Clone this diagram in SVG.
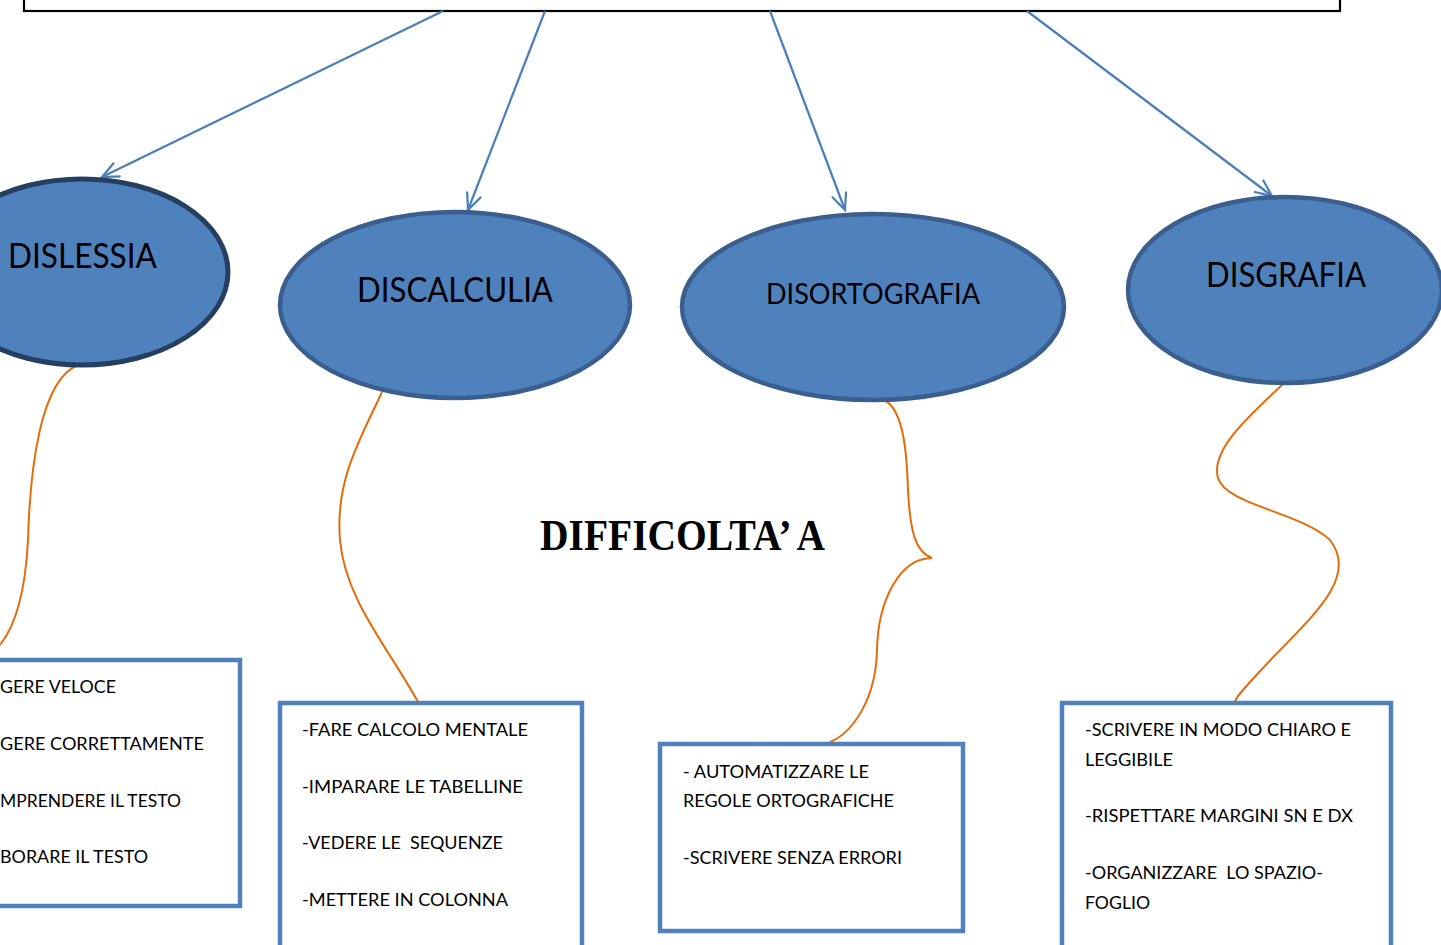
<svg xmlns="http://www.w3.org/2000/svg" width="1441" height="945" viewBox="0 0 1441 945">
<defs>
<marker id="vh" markerUnits="userSpaceOnUse" markerWidth="22" markerHeight="22" viewBox="0 0 22 22" refX="19" refY="11" orient="auto">
<path d="M2,3.5 L19,11 L2,18.5" fill="none" stroke="#4A7EBB" stroke-width="2.2"/>
</marker>
</defs>
<style>
.arrow{fill:none;stroke:#4A7EBB;stroke-width:2.2;marker-end:url(#vh)}
.curve{fill:none;stroke:#E46C0A;stroke-width:2}
.ell{fill:#4F81BD;stroke:#3A5F8E;stroke-width:4.5}
.etext{font-family:Lato,"Open Sans","Liberation Sans",sans-serif;fill:#000}
.box{fill:#fff;stroke:#4F81BD;stroke-width:4.5}
.btext{font-family:Lato,"Open Sans","Liberation Sans",sans-serif;font-size:18px;fill:#000}
</style>
<rect width="1441" height="945" fill="#fff"/>
<g id="top-box">
<rect x="24" y="-20" width="1316" height="31" fill="#fff" stroke="#000" stroke-width="2.2"/>
</g>
<g id="connectors">
<path class="arrow" d="M443,11 L102,177"/>
<path class="arrow" d="M545,11 L468,210"/>
<path class="arrow" d="M770,11 L845,210"/>
<path class="arrow" d="M1027,11 L1272,196"/>
<path class="curve" d="M78,365 C40,380 30,470 28,540 C25,600 12,630 0,645"/>
<path class="curve" d="M382,392 C360,440 335,480 340,540 C345,600 390,650 418,702"/>
<path class="curve" d="M884,400 C905,410 907,460 908,490 C910,530 915,552 932,558 C900,558 878,600 877,650 C876,700 852,733 830,742"/>
<path class="curve" d="M1283,384 C1250,415 1210,450 1218,478 C1226,505 1300,512 1330,540 C1365,585 1290,632 1238,696 L1234,703"/>
</g>
<g id="dislessia">
<ellipse cx="82" cy="272" rx="146" ry="93" fill="#4F81BD" stroke="#243F60" stroke-width="5"/>
<text class="etext" x="8" y="268" font-size="34" textLength="149" lengthAdjust="spacingAndGlyphs">DISLESSIA</text>
</g>
<g id="discalculia">
<ellipse class="ell" cx="455" cy="305" rx="175" ry="93"/>
<text class="etext" x="357" y="302" font-size="34" textLength="196" lengthAdjust="spacingAndGlyphs">DISCALCULIA</text>
</g>
<g id="disortografia">
<ellipse class="ell" cx="873" cy="307" rx="191" ry="93"/>
<text class="etext" x="766" y="304" font-size="29" textLength="214" lengthAdjust="spacingAndGlyphs">DISORTOGRAFIA</text>
</g>
<g id="disgrafia">
<ellipse class="ell" cx="1285" cy="290" rx="157" ry="93"/>
<text class="etext" x="1206" y="287" font-size="34" textLength="160" lengthAdjust="spacingAndGlyphs">DISGRAFIA</text>
</g>
<g id="title">
<text x="540" y="550" font-family="'Liberation Serif','DejaVu Serif',serif" font-weight="bold" font-size="44" textLength="285" lengthAdjust="spacingAndGlyphs">DIFFICOLTA’ A</text>
</g>
<g id="box-dislessia">
<rect class="box" x="-10" y="660" width="250" height="246"/>
<text class="btext" x="0" y="693" textLength="116" lengthAdjust="spacingAndGlyphs">GERE VELOCE</text>
<text class="btext" x="0" y="750" textLength="204" lengthAdjust="spacingAndGlyphs">GERE CORRETTAMENTE</text>
<text class="btext" x="0" y="807" textLength="181" lengthAdjust="spacingAndGlyphs">MPRENDERE IL TESTO</text>
<text class="btext" x="0" y="863" textLength="148" lengthAdjust="spacingAndGlyphs">BORARE IL TESTO</text>
</g>
<g id="box-discalculia">
<rect class="box" x="280" y="703" width="302" height="260"/>
<text class="btext" x="302" y="736" textLength="226" lengthAdjust="spacingAndGlyphs">-FARE CALCOLO MENTALE</text>
<text class="btext" x="302" y="793" textLength="221" lengthAdjust="spacingAndGlyphs">-IMPARARE LE TABELLINE</text>
<text class="btext" x="302" y="849" textLength="201" lengthAdjust="spacingAndGlyphs" xml:space="preserve">-VEDERE LE  SEQUENZE</text>
<text class="btext" x="302" y="906" textLength="206" lengthAdjust="spacingAndGlyphs">-METTERE IN COLONNA</text>
</g>
<g id="box-disortografia">
<rect class="box" x="660" y="744" width="303" height="187"/>
<text class="btext" x="683" y="778" textLength="186" lengthAdjust="spacingAndGlyphs">- AUTOMATIZZARE LE</text>
<text class="btext" x="683" y="807" textLength="211" lengthAdjust="spacingAndGlyphs">REGOLE ORTOGRAFICHE</text>
<text class="btext" x="683" y="864" textLength="219" lengthAdjust="spacingAndGlyphs">-SCRIVERE SENZA ERRORI</text>
</g>
<g id="box-disgrafia">
<rect class="box" x="1062" y="703" width="329" height="260"/>
<text class="btext" x="1085" y="736" textLength="266" lengthAdjust="spacingAndGlyphs">-SCRIVERE IN MODO CHIARO E</text>
<text class="btext" x="1085" y="766" textLength="88" lengthAdjust="spacingAndGlyphs">LEGGIBILE</text>
<text class="btext" x="1085" y="822" textLength="268" lengthAdjust="spacingAndGlyphs">-RISPETTARE MARGINI SN E DX</text>
<text class="btext" x="1085" y="879" textLength="238" lengthAdjust="spacingAndGlyphs" xml:space="preserve">-ORGANIZZARE  LO SPAZIO-</text>
<text class="btext" x="1085" y="909" textLength="65" lengthAdjust="spacingAndGlyphs">FOGLIO</text>
</g>
</svg>
